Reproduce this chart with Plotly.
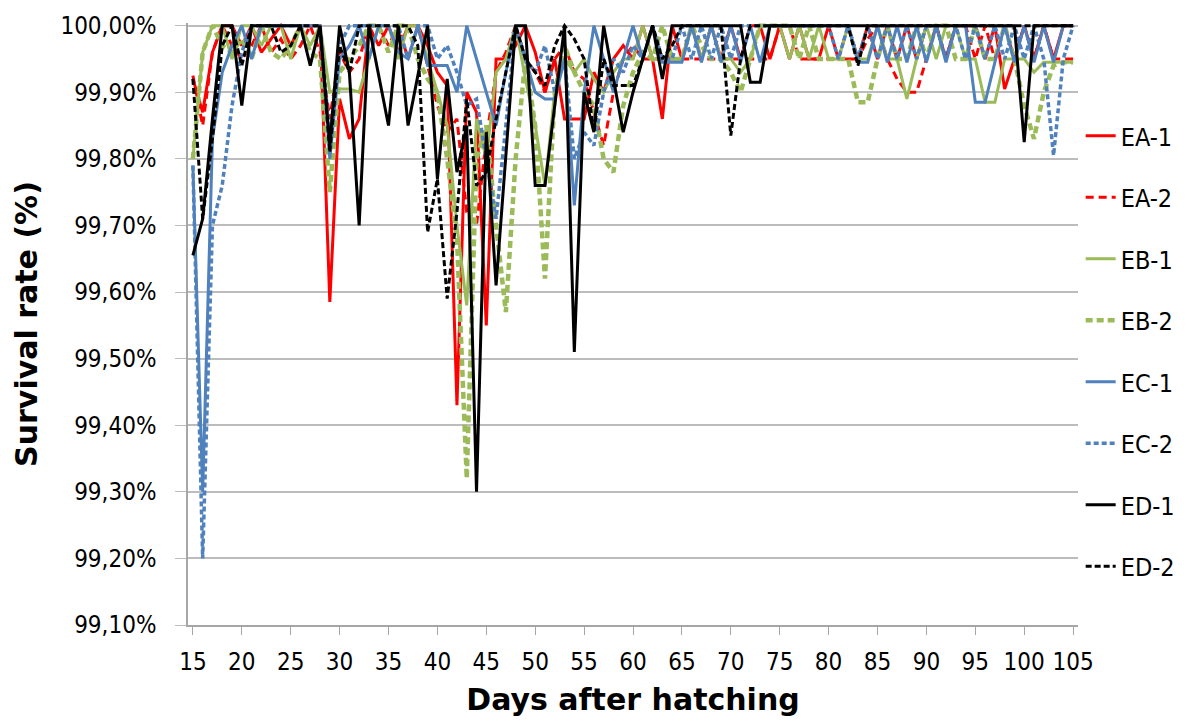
import plotly.graph_objects as go

days = list(range(15, 106))
y_ticks = [99.1, 99.2, 99.3, 99.4, 99.5, 99.6, 99.7, 99.8, 99.9, 100.0]
y_labels = ["99,10%", "99,20%", "99,30%", "99,40%", "99,50%", "99,60%", "99,70%", "99,80%", "99,90%", "100,00%"]
x_ticks = list(range(15, 106, 5))

ea1 = [99.92, 99.87, 99.96, 100, 100, 99.97, 100, 99.96, 99.98, 100,
       99.97, 100, 100, 100, 99.585, 99.89, 99.83, 99.86, 100, 99.97,
       100, 99.96, 100, 100, 99.97, 99.93, 99.91, 99.43, 99.90, 99.87,
       99.55, 99.95, 99.95, 99.97, 100, 99.96, 99.90, 99.95, 99.86, 99.86,
       99.86, 99.93, 99.90, 99.95, 99.97, 99.95, 100, 99.95, 99.86, 100,
       99.95, 100, 99.95, 100, 99.95, 100, 99.95, 100, 100, 99.95,
       100, 99.95, 100, 99.95, 99.95, 100, 99.95, 99.95, 99.95, 100,
       99.95, 100, 99.95, 100, 99.95, 100, 100, 99.95, 100, 100,
       100, 99.95, 100, 99.905, 99.95, 100, 99.95, 100, 99.95, 100,
       100]
ea2 = [99.925, 99.85, 99.96, 100, 99.97, 99.95, 99.97, 100, 99.96, 99.98,
       99.95, 99.97, 100, 99.96, 99.86, 99.96, 99.93, 99.95, 100, 100,
       99.97, 100, 99.95, 100, 99.94, 99.88, 99.84, 99.86, 99.72, 99.70,
       99.83, 99.93, 99.96, 100, 99.95, 99.93, 99.90, 99.95, 99.97, 99.93,
       99.92, 99.87, 99.82, 99.90, 99.95, 99.97, 99.95, 99.95, 99.95, 99.95,
       99.95, 99.95, 99.95, 99.95, 99.95, 99.95, 99.95, 99.95, 99.95, 99.95,
       100, 100, 99.95, 99.95, 99.95, 99.95, 99.95, 100, 99.95, 99.98,
       100, 99.95, 99.92, 99.90, 99.90, 99.95, 100, 99.95, 100, 100,
       99.95, 100, 99.95, 100, 99.95, 100, 99.95, 100, 99.95, 99.95,
       99.95]
eb1 = [99.80, 99.96, 100, 100, 99.95, 100, 100, 99.97, 100, 100,
       99.95, 100, 99.97, 100, 99.90, 99.905, 99.905, 99.90, 99.95, 100,
       100, 99.95, 100, 100, 99.95, 99.90, 99.85, 99.70, 99.58, 99.86,
       99.80, 99.93, 99.95, 100, 99.92, 99.85, 99.76, 99.90, 99.95, 99.93,
       99.95, 99.92, 99.90, 99.93, 99.95, 99.95, 100, 99.95, 99.95, 99.95,
       99.95, 100, 99.95, 100, 99.95, 99.95, 99.93, 99.95, 100, 100,
       100, 99.95, 100, 99.95, 100, 99.95, 99.95, 100, 99.95, 99.95,
       100, 99.95, 99.95, 99.89, 99.95, 100, 99.95, 100, 100, 99.95,
       99.95, 99.885, 99.885, 99.95, 99.95, 99.95, 99.93, 99.945, 99.945, 99.945,
       99.945]
eb2 = [99.80, 99.96, 100, 99.97, 99.96, 99.98, 99.95, 100, 99.96, 99.95,
       99.97, 100, 99.96, 99.95, 99.75, 99.93, 99.95, 99.97, 100, 100,
       99.96, 100, 100, 99.95, 99.92, 99.90, 99.80, 99.68, 99.32, 99.80,
       99.85, 99.70, 99.57, 99.80, 99.95, 99.85, 99.62, 99.90, 99.97, 99.93,
       99.90, 99.88, 99.80, 99.78, 99.88, 99.93, 99.96, 99.95, 100, 99.95,
       99.95, 100, 99.97, 99.95, 99.95, 99.93, 99.90, 99.95, 100, 100,
       100, 100, 99.95, 100, 99.95, 99.95, 99.95, 99.95, 99.885, 99.885,
       99.95, 100, 99.95, 99.95, 100, 99.95, 100, 100, 99.95, 99.95,
       100, 99.95, 99.95, 100, 99.95, 99.88, 99.83, 99.90, 99.94, 99.945,
       99.945]
ec1 = [99.79, 99.30, 99.83, 99.93, 99.97, 100, 99.95, 100, 100, 100,
       100, 100, 100, 100, 99.80, 99.95, 99.97, 100, 99.95, 100,
       100, 99.96, 99.95, 100, 99.94, 99.94, 99.94, 99.90, 100, 99.95,
       99.90, 99.85, 99.93, 100, 99.95, 99.90, 99.89, 99.89, 99.95, 99.73,
       99.90, 100, 99.95, 99.90, 99.95, 100, 99.95, 100, 99.945, 99.945,
       99.945, 100, 99.945, 100, 99.945, 100, 99.945, 100, 99.945, 100,
       100, 100, 100, 100, 100, 100, 100, 100, 99.945, 99.945,
       100, 99.945, 100, 99.945, 100, 99.945, 100, 99.945, 100, 100,
       99.885, 99.885, 99.945, 100, 99.945, 100, 99.945, 100, 99.945, 100,
       100]
ec2 = [99.79, 99.20, 99.70, 99.76, 99.88, 99.96, 100, 100, 100, 100,
       100, 100, 100, 100, 99.83, 99.97, 100, 100, 100, 100,
       100, 100, 99.95, 100, 100, 99.95, 99.97, 99.93, 99.88, 99.89,
       99.80, 99.71, 99.85, 100, 99.95, 99.93, 99.97, 99.90, 99.95, 99.80,
       99.84, 99.82, 99.90, 99.95, 99.93, 99.97, 99.95, 100, 99.95, 99.95,
       100, 99.95, 100, 99.95, 100, 99.95, 100, 100, 100, 100,
       100, 100, 100, 100, 100, 100, 99.95, 100, 99.95, 100,
       99.95, 100, 99.95, 100, 99.95, 100, 100, 99.95, 100, 99.95,
       100, 99.95, 100, 99.95, 100, 99.95, 100, 99.95, 99.805, 99.95,
       100]
ed1 = [99.655, 99.71, 99.86, 100, 100, 99.88, 100, 100, 100, 100,
       100, 100, 99.94, 100, 99.82, 100, 99.93, 99.70, 100, 99.925,
       99.85, 100, 99.85, 99.925, 100, 99.77, 99.92, 99.78, 99.85, 99.30,
       99.84, 99.61, 99.80, 100, 100, 99.76, 99.76, 99.88, 100, 99.51,
       99.90, 99.84, 100, 99.92, 99.84, 99.90, 99.95, 100, 99.92, 100,
       100, 100, 100, 100, 100, 100, 100, 99.915, 99.915, 100,
       100, 100, 100, 100, 100, 100, 100, 100, 100, 100,
       100, 100, 100, 100, 100, 100, 100, 100, 100, 100,
       100, 100, 100, 100, 100, 99.825, 100, 100, 100, 100,
       100]
ed2 = [99.92, 99.71, 99.83, 99.97, 100, 99.94, 100, 100, 100, 99.96,
       99.97, 100, 100, 100, 99.81, 99.97, 99.93, 100, 100, 100,
       100, 100, 100, 99.97, 99.69, 99.77, 99.59, 99.72, 99.89, 99.76,
       99.78, 99.86, 99.93, 100, 99.95, 99.93, 99.91, 99.97, 100, 99.98,
       99.95, 99.84, 99.95, 99.91, 99.91, 99.91, 99.95, 100, 99.95, 99.97,
       100, 100, 100, 100, 100, 99.835, 99.95, 100, 100, 100,
       100, 100, 100, 100, 100, 100, 100, 100, 99.94, 100,
       100, 100, 100, 100, 100, 100, 100, 100, 100, 100,
       100, 100, 100, 100, 100, 100, 100, 100, 100, 100,
       100]

names = ["EA-1", "EA-2", "EB-1", "EB-2", "EC-1", "EC-2", "ED-1", "ED-2"]
series = [ea1, ea2, eb1, eb2, ec1, ec2, ed1, ed2]
colors = ["#FF0000", "#FF0000", "#9BBB59", "#9BBB59", "#4F81BD", "#4F81BD", "#000000", "#000000"]
dashes = ["solid", "8px,5px", "solid", "7px,4px", "solid", "5px,3px", "solid", "6px,3px"]
widths = [3, 3, 3, 4.5, 3, 3.5, 3, 3]

fig = go.Figure()
for n, s, c, d, w in zip(names, series, colors, dashes, widths):
    fig.add_trace(go.Scatter(x=days, y=s, name=n, mode="lines", legendgroup=n,
                             line=dict(color=c, dash=d, width=w)))

tick_font = "DejaVu Sans Condensed, DejaVu Sans, sans-serif"
title_font = "DejaVu Sans, sans-serif"
fig.update_layout(
    width=1202, height=722,
    margin=dict(l=188, r=124, t=23, b=97),
    plot_bgcolor="white", paper_bgcolor="white",
    font=dict(family=tick_font, size=24, color="#000000"),
    showlegend=True,
    legend=dict(x=1.003, xanchor="left", y=0.455, yanchor="middle",
                font=dict(size=25, family=tick_font), tracegroupgap=26,
                itemwidth=30, bgcolor="rgba(0,0,0,0)"),
    xaxis=dict(range=[14.5, 105.5], tickmode="array", tickvals=x_ticks,
               showgrid=False, showline=True, linecolor="#a6a6a6", linewidth=1.5,
               ticks="outside", ticklen=8, tickcolor="#a6a6a6", ticklabelstandoff=6,
               tickfont=dict(size=24, family=tick_font),
               title=dict(text="<b>Days after hatching</b>", font=dict(size=30, family=title_font), standoff=14),
               zeroline=False),
    yaxis=dict(range=[99.1, 100.004], tickmode="array",
               tickvals=y_ticks, ticktext=y_labels,
               showgrid=True, gridcolor="#bcbcbc", gridwidth=1.5,
               showline=True, linecolor="#a6a6a6", linewidth=1.5,
               ticks="outside", ticklen=11, tickcolor="#bcbcbc", ticklabelstandoff=14,
               tickfont=dict(size=24, family=tick_font),
               title=dict(text="<b>Survival rate (%)</b>", font=dict(size=30, family=title_font), standoff=14),
               zeroline=False),
)
fig.write_html("out.html")
